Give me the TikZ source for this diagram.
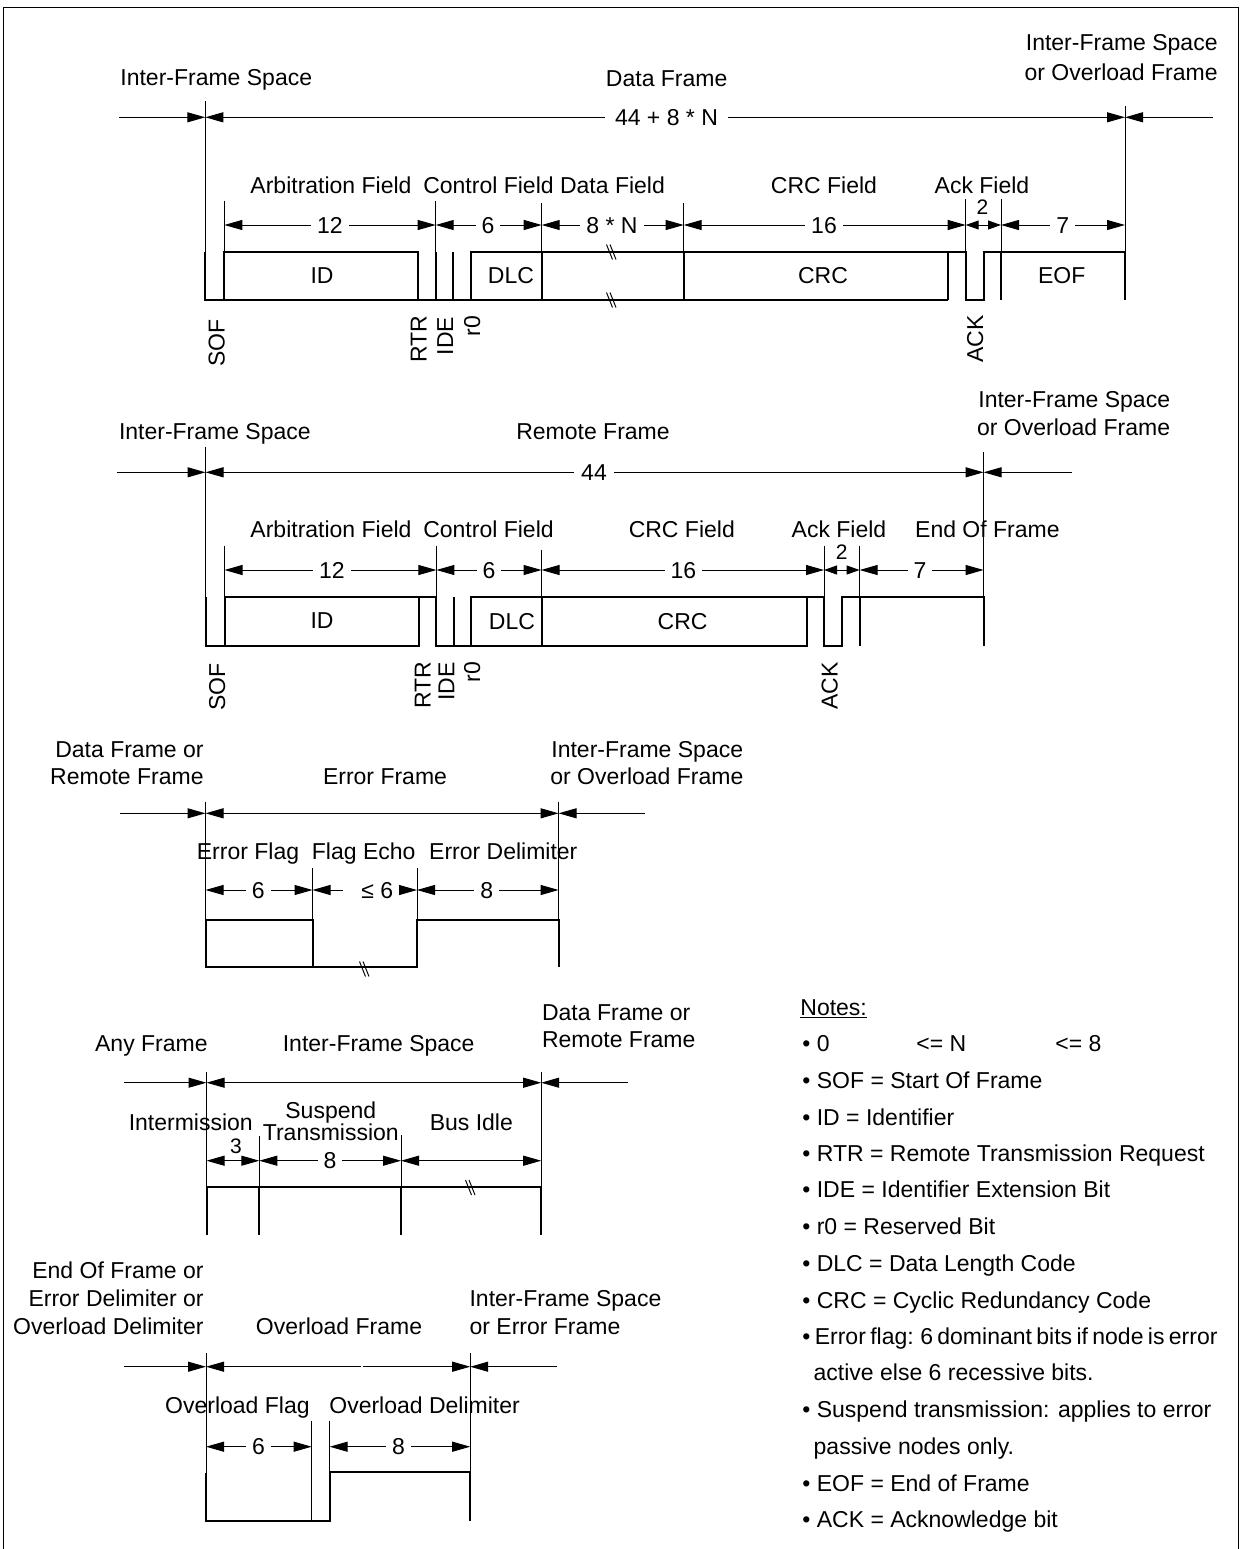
\documentclass[tikz,border=0pt]{standalone}
\usepackage{fontspec}
\setmainfont{Liberation Sans}
\usetikzlibrary{arrows.meta}
\tikzset{
  ext/.style={line width=0.5pt},
  wv/.style={line width=1pt},
  frm/.style={line width=0.75pt},
  darr/.style={line width=0.5pt,{Triangle[length=9pt,width=5pt]}-{Triangle[length=9pt,width=5pt]}},
  rarr/.style={line width=0.5pt,-{Triangle[length=9pt,width=5pt]}},
  larr/.style={line width=0.5pt,{Triangle[length=9pt,width=5pt]}-},
  sarr/.style={line width=0.5pt,{Triangle[length=6.5pt,width=4.5pt]}-{Triangle[length=6.5pt,width=4.5pt]}},
  txt/.style={font=\fontsize{11.5pt}{13.8pt}\selectfont,inner sep=0pt},
  bl/.style={txt,anchor=base},
  blw/.style={txt,anchor=base west},
  ble/.style={txt,anchor=base east},
  num/.style={txt,fill=white,inner xsep=3pt,inner ysep=1pt,text height=8.2pt,text depth=0pt},
  inbox/.style={txt,text height=8.2pt,text depth=0pt},
  vlab/.style={txt,rotate=90,anchor=base east},
  small/.style={font=\fontsize{10.5pt}{12pt}\selectfont,inner sep=0pt,text height=7.5pt,text depth=0pt},
}
\newcommand{\brkmark}[2]{%
  \draw[ext] (#1-5.5,#2-7.5) -- (#1+0.5,#2+7.5);
  \draw[ext] (#1-2,#2-7.5) -- (#1+4,#2+7.5);}
\begin{document}
\begin{tikzpicture}[x=0.5pt,y=-0.5pt]
\useasboundingbox (0,0) rectangle (1241,1549);
% outer frame
\draw[frm] (3.3,1549) -- (3.3,7.3) -- (1238.3,7.3) -- (1238.3,1549);

%%%%%%%%%%%%%%%% DATA FRAME %%%%%%%%%%%%%%%%
\node[blw] (a1) at (120,85.5) {Inter-Frame Space};
\node[bl]  (a2) at (666.7,86) {Data Frame};
\node[ble] (a3) at (1218,50.7) {Inter-Frame Space};
\node[ble] (a4) at (1218,80.7) {or Overload Frame};
\draw[rarr] (119,117.3) -- (205.3,117.3);
\draw[darr] (205.3,117.3) -- (1125,117.3);
\node[num,inner xsep=5pt] (a5) at (666.5,117.3) {44 + 8 * N};
\draw[rarr] (1213,117.3) -- (1125,117.3);
% extension lines
\draw[ext] (205.3,101) -- (205.3,252);
\draw[ext] (1125,106) -- (1125,252);
\draw[ext] (224.3,201) -- (224.3,252);
\draw[ext] (435.7,201) -- (435.7,252);
\draw[ext] (541.7,203) -- (541.7,252);
\draw[ext] (683.7,203) -- (683.7,252);
\draw[ext] (965.7,199) -- (965.7,252);
\draw[ext] (1001,199) -- (1001,252);
% field labels
\node[bl] (a6) at (331,193.5) {Arbitration Field};
\node[bl] (a7) at (488.5,193.5) {Control Field};
\node[bl] (a8) at (612.5,193.5) {Data Field};
\node[bl] (a9) at (824,193.5) {CRC Field};
\node[bl] (a10) at (982,193.5) {Ack Field};
% dimensions
\draw[darr] (224.3,225) -- (435.7,225);
\node[num] (a11) at (330,225) {12};
\draw[darr] (435.7,225) -- (541.7,225);
\node[num] (a12) at (488,225) {6};
\draw[darr] (541.7,225) -- (683.7,225);
\node[num] (a13) at (612,225) {8 * N};
\draw[darr] (683.7,225) -- (965.7,225);
\node[num] (a14) at (824,225) {16};
\draw[sarr] (965.7,225) -- (1001,225);
\node[small] (a15) at (982.5,206.7) {2};
\draw[darr] (1001,225) -- (1125,225);
\node[num] (a16) at (1062.7,225) {7};
% waveform
\draw[wv] (205.3,252) -- (205.3,300) -- (948.3,300);
\draw[wv] (224.3,300) -- (224.3,252) -- (418,252) -- (418,300);
\draw[wv] (435.7,252) -- (435.7,300);
\draw[wv] (452.7,252) -- (452.7,300);
\draw[wv] (470.7,300) -- (470.7,252) -- (965.7,252) -- (965.7,300) -- (984,300) -- (984,252) -- (1125,252) -- (1125,300);
\draw[wv] (541.7,252) -- (541.7,300);
\draw[wv] (683.7,252) -- (683.7,300);
\draw[wv] (948.3,252) -- (948.3,300);
\draw[wv] (1001,252) -- (1001,300);
\brkmark{612}{252}
\brkmark{612}{300}
\node[inbox] (a17) at (322,275) {ID};
\node[inbox] (a18) at (511,275) {DLC};
\node[inbox] (a19) at (823,275) {CRC};
\node[inbox] (a20) at (1061.7,275) {EOF};
\node[vlab] (a21) at (224.5,319) {SOF};
\node[vlab] (a22) at (426.5,315) {RTR};
\node[vlab] (a23) at (453,316.5) {IDE};
\node[vlab] (a24) at (480,315.5) {r0};
\node[vlab] (a25) at (983,315) {ACK};

%%%%%%%%%%%%%%%% REMOTE FRAME %%%%%%%%%%%%%%%%
\node[blw] (b1) at (118.6,439.3) {Inter-Frame Space};
\node[bl]  (b2) at (593,439.3) {Remote Frame};
\node[ble] (b3) at (1170.5,407.5) {Inter-Frame Space};
\node[ble] (b4) at (1170.5,435) {or Overload Frame};
\draw[rarr] (117.4,472.3) -- (205.5,472.3);
\draw[darr] (205.5,472.3) -- (983.6,472.3);
\node[num,inner xsep=3.5pt] (b5) at (594,472.3) {44};
\draw[rarr] (1071.5,472.3) -- (983.6,472.3);
\draw[ext] (205.5,446.7) -- (205.5,597.3);
\draw[ext] (983.6,451.7) -- (983.6,597.3);
\draw[ext] (224.5,545.7) -- (224.5,597.3);
\draw[ext] (436.4,545.7) -- (436.4,597.3);
\draw[ext] (541.5,549.6) -- (541.5,597.3);
\draw[ext] (824,545.7) -- (824,597.3);
\draw[ext] (859.6,545.7) -- (859.6,597.3);
\node[bl] (b6) at (331,537.3) {Arbitration Field};
\node[bl] (b7) at (488.5,537.3) {Control Field};
\node[bl] (b8) at (681.8,537.3) {CRC Field};
\node[bl] (b9) at (839,537.3) {Ack Field};
\node[bl] (b10) at (987.4,537.3) {End Of Frame};
\draw[darr] (224.5,570) -- (436.4,570);
\node[num] (b11) at (332,570) {12};
\draw[darr] (436.4,570) -- (541.5,570);
\node[num] (b12) at (489,570) {6};
\draw[darr] (541.5,570) -- (824,570);
\node[num] (b13) at (683.4,570) {16};
\draw[sarr] (824,570) -- (859.6,570);
\node[small] (b14) at (841.8,551.7) {2};
\draw[darr] (859.6,570) -- (983.6,570);
\node[num] (b15) at (920,570) {7};
\draw[wv] (205.5,597.3) -- (205.5,646) -- (418.6,646) -- (418.6,597.3);
\draw[wv] (224.5,646) -- (224.5,597.3) -- (436.4,597.3) -- (436.4,646) -- (807,646) -- (807,597.3);
\draw[wv] (453.8,597.3) -- (453.8,646);
\draw[wv] (470.8,646) -- (470.8,597.3) -- (824,597.3) -- (824,646) -- (841.8,646) -- (841.8,597.3) -- (983.6,597.3) -- (983.6,646);
\draw[wv] (541.5,597.3) -- (541.5,646);
\draw[wv] (859.6,597.3) -- (859.6,646);
\node[inbox] (b16) at (322,620.5) {ID};
\node[inbox] (b17) at (512,621.7) {DLC};
\node[inbox] (b18) at (682.6,621.7) {CRC};
\node[vlab] (b19) at (225,663) {SOF};
\node[vlab] (b20) at (430.5,661.7) {RTR};
\node[vlab] (b21) at (454.3,661.7) {IDE};
\node[vlab] (b22) at (480,661.7) {r0};
\node[vlab] (b23) at (837.5,661.7) {ACK};

%%%%%%%%%%%%%%%% ERROR FRAME %%%%%%%%%%%%%%%%
\node[ble] (c1) at (204,757.7) {Data Frame or};
\node[ble] (c2) at (204,784.3) {Remote Frame};
\node[bl]  (c3) at (385,784.3) {Error Frame};
\node[blw] (c4) at (551,757.7) {Inter-Frame Space};
\node[blw] (c5) at (550,784.3) {or Overload Frame};
\draw[rarr] (120.2,813.3) -- (205.5,813.3);
\draw[darr] (205.5,813.3) -- (558.6,813.3);
\draw[rarr] (644.7,813.3) -- (558.6,813.3);
\draw[ext] (205.5,801.7) -- (205.5,920);
\draw[ext] (558.6,801.7) -- (558.6,920);
\draw[ext] (312.5,868.3) -- (312.5,920);
\draw[ext] (417,868.3) -- (417,920);
\node[bl] (c6) at (248,859.5) {Error Flag};
\node[bl] (c7) at (363.7,859.5) {Flag Echo};
\node[bl] (c8) at (503.3,859.5) {Error Delimiter};
\draw[darr] (205.5,890) -- (312.5,890);
\node[num] (c9) at (258.3,890) {6};
\draw[darr] (312.5,890) -- (417,890);
\node[num,inner xsep=0pt,anchor=west] (c10) at (343,890) {\hspace*{9pt}≤ 6\hspace*{3pt}};
\draw[darr] (417,890) -- (558.6,890);
\node[num] (c11) at (486.7,890) {8};
\draw[wv] (205.5,920) -- (205.5,967.3) -- (417,967.3) -- (417,920) -- (558.6,920) -- (558.6,967.3);
\draw[wv] (205.5,920) -- (312.5,920) -- (312.5,967.3);
\brkmark{365}{969}

%%%%%%%%%%%%%%%% INTER-FRAME SPACE %%%%%%%%%%%%%%%%
\node[ble] (d1) at (208,1051.7) {Any Frame};
\node[bl]  (d2) at (378.7,1051.7) {Inter-Frame Space};
\node[blw] (d3) at (541.7,1020) {Data Frame or};
\node[blw] (d4) at (541.7,1047.3) {Remote Frame};
\draw[rarr] (123.6,1082.7) -- (206.5,1082.7);
\draw[darr] (206.5,1082.7) -- (541.2,1082.7);
\draw[rarr] (627.7,1082.7) -- (541.2,1082.7);
\draw[ext] (206.5,1071.7) -- (206.5,1186.7);
\draw[ext] (541.2,1071.7) -- (541.2,1186.7);
\draw[ext] (259.3,1136) -- (259.3,1186.7);
\draw[ext] (401,1135) -- (401,1186.7);
\node[bl] (d5) at (190.8,1130) {Intermission};
\node[bl] (d6) at (330.8,1118.3) {Suspend};
\node[bl] (d7) at (330.8,1140.7) {Transmission};
\node[bl] (d8) at (471.3,1130) {Bus Idle};
\node[small] (d9) at (236,1146) {3};
\draw[darr] (206.5,1160.7) -- (259.3,1160.7);
\draw[darr] (259.3,1160.7) -- (401,1160.7);
\node[num] (d10) at (330,1160.7) {8};
\draw[darr] (401,1160.7) -- (541.2,1160.7);
\draw[wv] (206.5,1235) -- (206.5,1186.7) -- (541.2,1186.7) -- (541.2,1235);
\draw[wv] (259.3,1186.7) -- (259.3,1235);
\draw[wv] (401,1186.7) -- (401,1235);
\brkmark{471}{1187.5}

%%%%%%%%%%%%%%%% OVERLOAD FRAME %%%%%%%%%%%%%%%%
\node[ble] (e1) at (204,1278.3) {End Of Frame or};
\node[ble] (e2) at (204,1306.7) {Error Delimiter or};
\node[ble] (e3) at (204,1334.3) {Overload Delimiter};
\node[bl]  (e4) at (339,1334.3) {Overload Frame};
\node[blw] (e5) at (469.2,1306.7) {Inter-Frame Space};
\node[blw] (e6) at (469.2,1334.3) {or Error Frame};
\draw[rarr] (123.6,1366.7) -- (206,1366.7);
\draw[larr] (206,1366.7) -- (360.5,1366.7);
\draw[rarr] (362.5,1366.7) -- (470.2,1366.7);
\draw[rarr] (557.4,1366.7) -- (470.2,1366.7);
\draw[ext] (206,1353.3) -- (206,1472.7);
\draw[ext] (470.2,1353.3) -- (470.2,1471.7);
\draw[ext] (311.7,1420.7) -- (311.7,1472.7);
\draw[ext] (329.6,1420.7) -- (329.6,1471.7);
\node[bl] (e7) at (237.4,1413.3) {Overload Flag};
\node[bl] (e8) at (424.6,1413.3) {Overload Delimiter};
\draw[darr] (206,1446.7) -- (311.7,1446.7);
\node[num] (e9) at (258.4,1446.7) {6};
\draw[darr] (329.6,1446.7) -- (470.2,1446.7);
\node[num] (e10) at (398.4,1446.7) {8};
\draw[wv] (206,1472.7) -- (206,1520.7) -- (329.6,1520.7) -- (329.6,1471.7) -- (470.2,1471.7) -- (470.2,1520.7);
\draw[line width=0.7pt] (311.7,1472.7) -- (311.7,1520.7);

%%%%%%%%%%%%%%%% NOTES %%%%%%%%%%%%%%%%
\node[blw] (n0) at (800,1015.2) {Notes:};
\draw[ext] ([yshift=-1pt]n0.base west) -- ([yshift=-1pt]n0.base east);
\node[blw] (n1) at (802,1051.8) {• 0};
\node[blw] (n1b) at (916,1051.8) {<= N};
\node[blw] (n1c) at (1055,1051.8) {<= 8};
\node[blw] (n2) at (802,1088.1) {• SOF = Start Of Frame};
\node[blw] (n3) at (802,1125.1) {• ID = Identifier};
\node[blw] (n4) at (802,1161.4) {• RTR = Remote Transmission Request};
\node[blw] (n5) at (802,1197.7) {• IDE = Identifier Extension Bit};
\node[blw] (n6) at (802,1234.7) {• r0 = Reserved Bit};
\node[blw] (n7) at (802,1271.7) {• DLC = Data Length Code};
\node[blw] (n8) at (802,1308.4) {• CRC = Cyclic Redundancy Code};
\node[blw] (n9) at (802,1344.7) {{\spaceskip=0.19em\relax • Error flag: 6 dominant bits if node is error}};
\node[blw] (n10) at (813.3,1380.9) {active else 6 recessive bits.};
\node[blw] (n11) at (802,1417.9) {• Suspend transmission: applies to error};
\node[blw] (n12) at (813.3,1454.6) {passive nodes only.};
\node[blw] (n13) at (802,1491.6) {• EOF = End of Frame};
\node[blw] (n14) at (802,1527.9) {• ACK = Acknowledge bit};
\end{tikzpicture}
\end{document}
